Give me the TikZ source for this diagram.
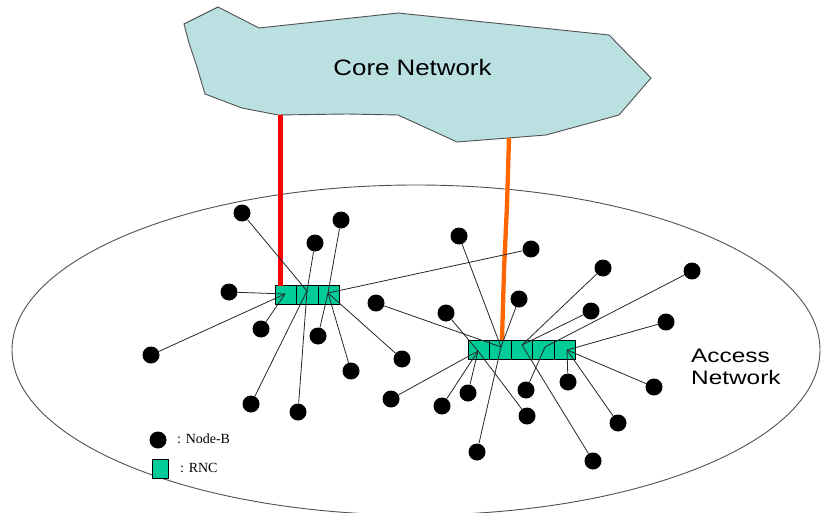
\documentclass[tikz,border=0pt]{standalone}
\usepackage{fontspec}
\setmainfont{Liberation Sans}
\newfontfamily\coresans[FakeStretch=1.16]{Liberation Sans}
\newfontfamily\accesssans[FakeStretch=1.25]{Liberation Sans}
\newfontfamily\legendserif{Liberation Serif}
\definecolor{cloudfill}{RGB}{186,224,226}
\definecolor{rncgreen}{RGB}{0,204,153}
\definecolor{edgegray}{RGB}{80,80,80}
\definecolor{linkorange}{RGB}{255,102,0}
\definecolor{linkred}{RGB}{255,0,0}
\begin{document}
\begin{tikzpicture}[x=1pt,y=-1pt,
  nodeb/.style={circle,fill=black,inner sep=0pt,minimum size=17pt},
  rnccell/.style={rectangle,draw=black,fill=rncgreen,inner sep=0pt,
    minimum width=21.5pt,minimum height=19.5pt,line width=0.6pt},
  link/.style={draw=black!85,line width=0.8pt},
  corelink/.style={line width=4.3pt},
]
\useasboundingbox (0,0) rectangle (821,513);

% access network ellipse
\draw[edgegray,line width=0.9pt] (416,350) ellipse [x radius=404pt, y radius=165pt];

% core network cloud
\draw[edgegray,line width=0.9pt,fill=cloudfill]
  (184,24) -- (218,7) -- (259,28) -- (398,13) -- (609,35) -- (651,78)
  -- (619,115) -- (546,135) -- (457,142) -- (398,115) -- (347,114)
  -- (278,115) -- (242,108) -- (205,94) -- (197,67) -- (189,43) -- cycle;
\node[font=\coresans\fontsize{22.3}{26}\selectfont,inner sep=0pt] (core) at (412.5,68) {Core Network};
\node[font=\accesssans\fontsize{19.5}{22}\selectfont,inner sep=0pt,align=left,anchor=west] (access) at (691,367) {Access\\Network};

% RNCs
\node[rnccell] (L1c) at (285.7,295) {};
\node[rnccell] (L2c) at (307.2,295) {};
\node[rnccell] (L3c) at (328.7,295) {};
\node[rnccell] (R1c) at (478.8,349.7) {};
\node[rnccell] (R2c) at (500.3,349.7) {};
\node[rnccell] (R3c) at (521.8,349.7) {};
\node[rnccell] (R4c) at (543.3,349.7) {};
\node[rnccell] (R5c) at (564.8,349.7) {};

% core links
\coordinate (redtop) at (280.5,115);
\coordinate (redbot) at (280.5,285.5);
\coordinate (orangetop) at (509,138);
\coordinate (orangebot) at (502,340);
\draw[linkred,corelink] (redtop) -- (redbot);
\draw[linkorange,corelink] (orangetop) -- (507,205) -- (504,270) -- (orangebot);

% end points in the RNC cells
\coordinate (L1) at (285,294);
\coordinate (L2) at (307,291);
\coordinate (L3) at (328,293);
\coordinate (R1) at (478,351);
\coordinate (R2) at (501,347);
\coordinate (R3) at (522,345);
\coordinate (R4) at (545,347);
\coordinate (R5) at (567,350);

% Node-Bs
\node[nodeb] (a1) at (242,213) {};
\node[nodeb] (a2) at (341,220) {};
\node[nodeb] (a3) at (315,243) {};
\node[nodeb] (a4) at (229,292) {};
\node[nodeb] (a5) at (151,355) {};
\node[nodeb] (a6) at (261,329) {};
\node[nodeb] (a7) at (318,336) {};
\node[nodeb] (a8) at (351,371) {};
\node[nodeb] (a9) at (251,404) {};
\node[nodeb] (a10) at (298,412) {};
\node[nodeb] (a11) at (402,359) {};
\node[nodeb] (b1) at (459,236) {};
\node[nodeb] (b2) at (531,249) {};
\node[nodeb] (b3) at (603,268) {};
\node[nodeb] (b4) at (692,271) {};
\node[nodeb] (b5) at (376,303) {};
\node[nodeb] (b6) at (519,299) {};
\node[nodeb] (b7) at (446,313) {};
\node[nodeb] (b8) at (591,311) {};
\node[nodeb] (b9) at (666,322) {};
\node[nodeb] (b10) at (391,399) {};
\node[nodeb] (b11) at (468,393) {};
\node[nodeb] (b12) at (442,406) {};
\node[nodeb] (b13) at (526,390) {};
\node[nodeb] (b14) at (568,382) {};
\node[nodeb] (b15) at (654,387) {};
\node[nodeb] (b16) at (527,416) {};
\node[nodeb] (b17) at (618,423) {};
\node[nodeb] (b18) at (477,452) {};
\node[nodeb] (b19) at (593,461) {};

% links, left RNC
\draw[link] (a4) -- (L1);
\draw[link] (a5) -- (L1);
\draw[link] (a6) -- (L1);
\draw[link] (a1) -- (L2);
\draw[link] (a3) -- (L2);
\draw[link] (a9) -- (L2);
\draw[link] (a10) -- (L2);
\draw[link] (a2) -- (L3);
\draw[link] (a7) -- (L3);
\draw[link] (a8) -- (L3);
\draw[link] (a11) -- (L3);
\draw[link] (b2) -- (L3);

% links, right RNC
\draw[link] (b7) -- (R1);
\draw[link] (b16) -- (R1);
\draw[link] (b10) -- (R1);
\draw[link] (b12) -- (R1);
\draw[link] (b11) -- (R1);
\draw[link] (b1) -- (R2);
\draw[link] (b5) -- (R2);
\draw[link] (b6) -- (R2);
\draw[link] (b18) -- (R2);
\draw[link] (b3) -- (R3);
\draw[link] (b8) -- (R3);
\draw[link] (b19) -- (R3);
\draw[link] (b4) -- (R4);
\draw[link] (b13) -- (R4);
\draw[link] (b9) -- (R5);
\draw[link] (b14) -- (R5);
\draw[link] (b15) -- (R5);
\draw[link] (b17) -- (R5);

% legend
\node[nodeb] (legdot) at (158,440) {};
\node[rectangle,draw=black,fill=rncgreen,inner sep=0pt,minimum width=16pt,minimum height=19pt,line width=0.6pt] (legrnc) at (160,468.5) {};
\node[font=\legendserif\fontsize{14}{16}\selectfont,anchor=west,inner sep=0pt] (legdottext) at (177,439) {: Node-B};
\node[font=\legendserif\fontsize{14}{16}\selectfont,anchor=west,inner sep=0pt] (legrnctext) at (180,468) {: RNC};
\end{tikzpicture}
\end{document}
